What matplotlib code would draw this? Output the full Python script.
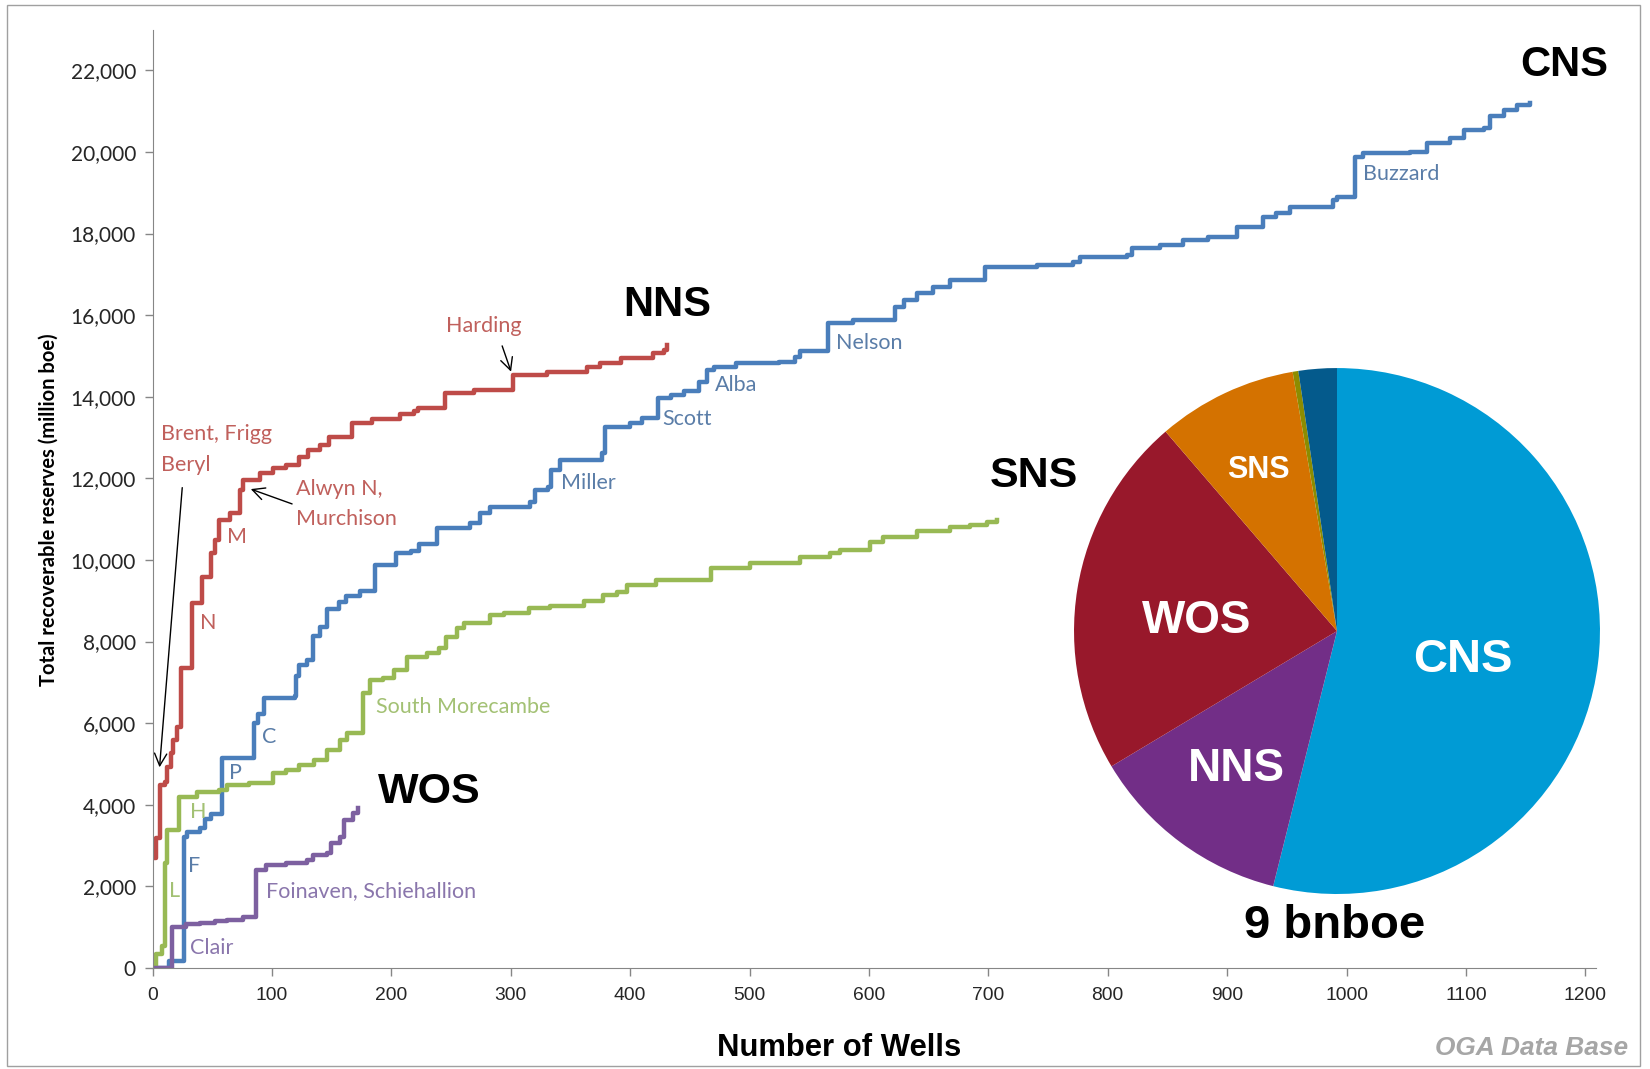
import matplotlib.pyplot as plt
from matplotlib import font_manager
from matplotlib.patches import Rectangle

# cumulative reserves (million boe) vs number of wells
cns_wells = [0, 14, 26, 29, 40, 44, 49, 58, 85, 88, 93, 119, 120, 123, 129, 134, 140, 146, 156, 162,
             174, 186, 204, 216, 223, 238, 266, 274, 283, 316, 320, 331, 334, 341, 376, 379, 400, 410,
             423, 434, 445, 458, 464, 470, 489, 525, 538, 542, 566, 587, 622, 629, 640, 654, 668, 697,
             741, 771, 777, 816, 820, 844, 863, 884, 908, 930, 941, 953, 989, 992, 1007, 1014, 1053,
             1067, 1087, 1098, 1115, 1120, 1132, 1143, 1154]
cns_vals = [0, 180, 3200, 3330, 3420, 3640, 3780, 5140, 6000, 6220, 6620, 6670, 7160, 7420, 7560, 8130,
            8360, 8800, 8980, 9110, 9250, 9870, 10180, 10220, 10400, 10780, 10900, 11150, 11300, 11430,
            11720, 11780, 12210, 12450, 12610, 13270, 13350, 13470, 13960, 14040, 14130, 14370, 14660,
            14740, 14820, 14860, 14980, 15110, 15800, 15880, 16210, 16370, 16540, 16700, 16860, 17190,
            17230, 17310, 17430, 17480, 17640, 17720, 17840, 17920, 18170, 18410, 18500, 18660, 18820,
            18900, 19880, 19970, 20010, 20210, 20330, 20540, 20580, 20870, 21030, 21150, 21200]

nns_wells = [0, 3, 6, 10, 12, 15, 17, 20, 24, 33, 41, 49, 52, 56, 65, 73, 76, 90, 101, 112, 123, 130,
             140, 148, 167, 184, 207, 219, 222, 245, 269, 302, 330, 364, 375, 392, 419, 428, 431]
nns_vals = [2700, 3180, 4480, 4570, 4930, 5260, 5590, 5910, 7350, 8940, 9590, 10160, 10490, 10980,
            11140, 11720, 11960, 12120, 12250, 12330, 12530, 12700, 12820, 13010, 13350, 13450, 13580,
            13640, 13730, 14080, 14170, 14530, 14615, 14740, 14820, 14940, 15065, 15150, 15270]

sns_wells = [0, 3, 8, 10, 12, 22, 37, 56, 62, 81, 101, 112, 123, 135, 146, 157, 163, 176, 182, 193,
             202, 213, 230, 240, 246, 255, 261, 283, 294, 315, 333, 361, 377, 389, 397, 422, 468, 500,
             542, 567, 576, 601, 612, 640, 668, 685, 699, 707]
sns_vals = [0, 350, 530, 2580, 3380, 4200, 4320, 4360, 4480, 4530, 4770, 4850, 4980, 5100, 5340, 5590,
            5750, 6730, 7060, 7100, 7300, 7630, 7710, 7830, 8120, 8330, 8450, 8650, 8710, 8820, 8860,
            9000, 9140, 9220, 9390, 9510, 9800, 9930, 10080, 10160, 10250, 10450, 10560, 10700, 10800,
            10860, 10940, 10980]

wos_wells = [0, 14, 16, 28, 40, 52, 62, 76, 87, 95, 112, 129, 134, 146, 149, 157, 160, 168, 172]
wos_vals = [0, 0, 1000, 1070, 1110, 1150, 1180, 1250, 2400, 2520, 2570, 2640, 2780, 2830, 3060, 3220,
            3630, 3790, 3910]

# pie: share of recoverable reserves (%)
pie_labels = ['CNS', 'NNS', 'WOS', 'SNS', '', '']
pie_vals = [53.9, 12.5, 22.3, 8.6, 0.35, 2.35]
pie_colors = ['#009BD5', '#722E87', '#98182B', '#D47200', '#8C8C00', '#045A8C']

names = {f.name for f in font_manager.fontManager.ttflist}
narrow = 'Liberation Sans Narrow' if 'Liberation Sans Narrow' in names else 'Liberation Sans'
k = 1.0 if narrow == 'Liberation Sans Narrow' else 0.86
calib = 'Lato'

fig = plt.figure(figsize=(16.5, 10.69), dpi=100)
ax = fig.add_axes([0.0925, 0.0945, 0.8748, 0.8779])

ax.plot(cns_wells, cns_vals, drawstyle='steps-post', color='#4A7EBB', lw=3.2)
ax.plot(nns_wells, nns_vals, drawstyle='steps-post', color='#BE4B48', lw=3.2)
ax.plot(sns_wells, sns_vals, drawstyle='steps-post', color='#98B954', lw=3.2)
ax.plot(wos_wells, wos_vals, drawstyle='steps-post', color='#7D60A0', lw=3.2)

ax.set_xlim(0, 1209)
ax.set_ylim(0, 23000)
ax.set_xticks(range(0, 1201, 100))
ax.set_yticks(range(0, 22001, 2000))
ax.set_yticklabels([f'{v:,}' for v in range(0, 22001, 2000)], family=calib, fontsize=15, color='#262626')
ax.set_xticklabels([str(v) for v in range(0, 1201, 100)], family=narrow, fontsize=15 * k + 1,
                   color='#262626')
for s in ['top', 'right']:
    ax.spines[s].set_visible(False)
for s in ['left', 'bottom']:
    ax.spines[s].set_color('#868686')
ax.tick_params(colors='#868686', length=6, width=1, labelcolor='#262626')
ax.tick_params(axis='y', pad=6)
ax.tick_params(axis='x', pad=8)

red_t = '#C0605C'
blue_t = '#5A7DA8'
green_t = '#A3C174'
purple_t = '#8A76AC'
fs = 15.5
ax.text(277, 15730, 'Harding', color=red_t, fontsize=fs, family=calib, ha='center', va='center')
ax.text(7, 13075, 'Brent, Frigg', color=red_t, fontsize=fs, family=calib, va='center')
ax.text(7, 12330, 'Beryl', color=red_t, fontsize=fs, family=calib, va='center')
ax.text(120, 11730, 'Alwyn N,', color=red_t, fontsize=fs, family=calib, va='center')
ax.text(120, 11010, 'Murchison', color=red_t, fontsize=fs, family=calib, va='center')
ax.text(71, 10570, 'M', color=red_t, fontsize=fs, family=calib, ha='center', va='center')
ax.text(47, 8460, 'N', color=red_t, fontsize=fs, family=calib, ha='center', va='center')
ax.text(342, 11890, 'Miller', color=blue_t, fontsize=fs, family=calib, va='center')
ax.text(427, 13460, 'Scott', color=blue_t, fontsize=fs, family=calib, va='center')
ax.text(471, 14290, 'Alba', color=blue_t, fontsize=fs, family=calib, va='center')
ax.text(572, 15320, 'Nelson', color=blue_t, fontsize=fs, family=calib, va='center')
ax.text(1014, 19450, 'Buzzard', color=blue_t, fontsize=fs, family=calib, va='center')
ax.text(92, 5670, 'C', color=blue_t, fontsize=fs, family=calib, va='center')
ax.text(64, 4770, 'P', color=blue_t, fontsize=fs, family=calib, va='center')
ax.text(30, 2500, 'F', color=blue_t, fontsize=fs, family=calib, va='center')
ax.text(31, 3820, 'H', color=green_t, fontsize=fs, family=calib, va='center')
ax.text(14, 1880, 'L', color=green_t, fontsize=fs, family=calib, va='center')
ax.text(187, 6400, 'South Morecambe', color=green_t, fontsize=fs, family=calib, va='center')
ax.text(95, 1880, 'Foinaven, Schiehallion', color=purple_t, fontsize=fs, family=calib, va='center')
ax.text(31, 490, 'Clair', color=purple_t, fontsize=fs, family=calib, va='center')

arrow = dict(arrowstyle='->', color='black', lw=1, mutation_scale=22)
ax.annotate('', xy=(301, 14550), xytext=(292, 15310), arrowprops=arrow)
ax.annotate('', xy=(5.6, 4850), xytext=(25, 11840), arrowprops=arrow)
ax.annotate('', xy=(80, 11760), xytext=(119, 11350), arrowprops=arrow)

# region labels
big = dict(fontweight='bold', color='black', ha='center', va='center')
fig.text(0.4042, 0.7147, 'NNS', family=narrow, fontsize=35 * k, **big)
fig.text(0.9479, 0.9392, 'CNS', family=narrow, fontsize=35 * k, **big)
fig.text(0.6267, 0.5547, 'SNS', family=narrow, fontsize=36 * k, **big)
fig.text(0.2600, 0.2591, 'WOS', family=narrow, fontsize=36 * k, **big)
fig.text(0.8091, 0.1338, '9 bnboe', family='Liberation Sans', fontsize=34, **big)
fig.text(0.5085, 0.0196, 'Number of Wells', family=narrow, fontsize=26 * k, **big)
fig.text(0.0297, 0.5229, 'Total recoverable reserves (million boe)', family=calib, fontsize=14.5,
         fontweight='bold', rotation=90, ha='center', va='center')
fig.text(0.9867, 0.0196, 'OGA Data Base', family=narrow, fontsize=22 * k, fontweight='bold',
         style='italic', color='#A6A6A6', ha='right', va='center')

# pie inset
pax = fig.add_axes([0.6509, 0.1637, 0.3188, 0.492])
pax.pie(pie_vals, colors=pie_colors, startangle=90, counterclock=False,
        wedgeprops=dict(linewidth=0))
pax.set_aspect('equal')
pax.set_xlim(-1, 1)
pax.set_ylim(-1, 1)
pw = dict(color='white', fontweight='bold', family='Liberation Sans', ha='center', va='center')
pax.text(0.479, -0.11, pie_labels[0], fontsize=34, **pw)
pax.text(-0.384, -0.525, pie_labels[1], fontsize=33, **pw)
pax.text(-0.532, 0.038, pie_labels[2], fontsize=33, **pw)
pax.text(-0.30, 0.612, pie_labels[3], fontsize=22, **pw)

fig.patches.append(Rectangle((7 / 1650, 1 - 1066 / 1069), 1633 / 1650, 1061 / 1069,
                             transform=fig.transFigure, fill=False, edgecolor='#A0A0A0', lw=1))

fig.savefig('out.png', dpi=100)
